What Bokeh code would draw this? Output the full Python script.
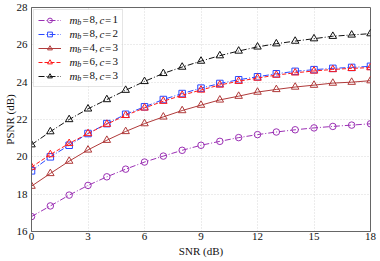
import math
from bokeh.plotting import figure
from bokeh.models import Legend, LegendItem, Label, FixedTicker, Range1d, BoxAnnotation
from bokeh.embed import file_html
from bokeh.resources import INLINE

# ---------------- data ----------------
snr = [0, 1, 2, 3, 4, 5, 6, 7, 8, 9, 10, 11, 12, 13, 14, 15, 16, 17, 18]
psnr_mb8_c1 = [16.80, 17.37, 17.95, 18.47, 18.93, 19.34, 19.72, 20.04, 20.35, 20.62,
               20.83, 21.03, 21.19, 21.33, 21.45, 21.55, 21.63, 21.70, 21.77]
psnr_mb8_c2 = [19.25, 20.00, 20.62, 21.25, 21.78, 22.28, 22.68, 23.07, 23.39, 23.68,
               23.93, 24.13, 24.29, 24.45, 24.58, 24.67, 24.74, 24.79, 24.85]
psnr_mb4_c3 = [18.43, 19.11, 19.77, 20.37, 20.89, 21.36, 21.78, 22.14, 22.48, 22.77,
               23.05, 23.25, 23.47, 23.61, 23.74, 23.84, 23.95, 24.00, 24.08]
psnr_mb6_c3 = [19.45, 20.12, 20.72, 21.25, 21.75, 22.22, 22.62, 22.98, 23.30, 23.58,
               23.85, 24.05, 24.22, 24.38, 24.50, 24.60, 24.68, 24.74, 24.78]
psnr_mb8_c3 = [20.65, 21.35, 22.00, 22.57, 23.07, 23.57, 24.04, 24.47, 24.81, 25.13,
               25.42, 25.67, 25.89, 26.06, 26.20, 26.33, 26.46, 26.53, 26.60]

legend_mb = ["8", "8", "4", "6", "8"]
legend_c = ["1", "2", "3", "3", "3"]
x_ticks = [0, 3, 6, 9, 12, 15, 18]
y_ticks = [16, 18, 20, 22, 24, 26, 28]
x_label = "SNR (dB)"
y_label = "PSNR (dB)"

series = [
    (psnr_mb8_c1, "#9b30b4", "6 2 1 2", "circle", 6.5),
    (psnr_mb8_c2, "#2a48ff", "6 2 1 2", "square", 6.5),
    (psnr_mb4_c3, "#b03a3a", "solid", "triangle", 7.5),
    (psnr_mb6_c3, "#ff1a1a", "4 2", "triangle", 7.5),
    (psnr_mb8_c3, "#111111", "6 2 1 2", "triangle", 7.5),
]

FONT = "Liberation Serif"
FS = "11px"
TOP, BOTTOM = 7, 30
FRAME_H = 261 - TOP - BOTTOM

p = figure(width=380, height=261, output_backend="svg", toolbar_location=None,
           x_range=Range1d(0, 18), y_range=Range1d(16, 28),
           min_border_left=31, min_border_right=10, min_border_top=TOP,
           min_border_bottom=BOTTOM)
p.background_fill_color = "white"
p.border_fill_color = "white"
p.outline_line_color = "#666666"
p.outline_line_width = 1

for ax in (p.xaxis, p.yaxis):
    ax.axis_line_color = "#666666"
    ax.major_tick_line_color = None
    ax.minor_tick_line_color = None
    ax.major_tick_out = 0
    ax.major_tick_in = 0
    ax.minor_tick_out = 0
    ax.minor_tick_in = 0
    ax.major_label_text_font = FONT
    ax.major_label_text_font_size = FS
    ax.major_label_text_color = "#111111"
    ax.axis_label_text_font = FONT
    ax.axis_label_text_font_size = FS
    ax.axis_label_text_font_style = "normal"
    ax.axis_label_text_color = "#111111"
p.xaxis.major_label_standoff = 1
p.xaxis.axis_label_standoff = 2
p.yaxis.major_label_standoff = 4
p.yaxis.axis_label_standoff = -2
p.xaxis.ticker = FixedTicker(ticks=x_ticks)
p.yaxis.ticker = FixedTicker(ticks=y_ticks)
p.xaxis.axis_label = x_label
p.yaxis.axis_label = y_label

for g in (p.xgrid, p.ygrid):
    g.grid_line_color = "#cfcfcf"
    g.grid_line_dash = "1 2"
    g.grid_line_width = 0.8

items = []
for vals, col, dash, marker, ms in series:
    lr = p.line(snr, vals, line_color=col, line_dash=dash, line_width=1)
    mr = p.scatter(snr, vals, marker=marker, size=ms, line_color=col,
                   fill_color=None, line_width=1)
    items.append(LegendItem(label=" ", renderers=[lr, mr]))

MARGIN, PAD, GW, GH, SP, STAND, LW = 2, 4, 23, 12, 2, 9, 48
n = len(series)
leg_h = 2 * PAD + n * GH + (n - 1) * SP
leg_w = 2 * PAD + GW + STAND + LW
p.add_layout(BoxAnnotation(left=MARGIN, right=MARGIN + leg_w,
                           top=FRAME_H - MARGIN, bottom=FRAME_H - MARGIN - leg_h,
                           left_units="screen", right_units="screen",
                           top_units="screen", bottom_units="screen",
                           fill_color="white", fill_alpha=0.85, line_color=None))
legend = Legend(items=items, location="top_left", margin=MARGIN, padding=PAD,
                glyph_width=GW, glyph_height=GH, label_height=GH, spacing=SP,
                label_standoff=STAND, label_width=LW,
                label_text_font_size="8px",
                border_line_color="#cccccc", border_line_width=1,
                background_fill_alpha=0)
p.add_layout(legend)

# legend texts (m_b = ., c = .) drawn as real text fragments
tx0 = MARGIN + PAD + GW + STAND
for k in range(n):
    yc = FRAME_H - MARGIN - PAD - GH / 2 - k * (GH + SP)
    frags = [
        ("m", 0, 0, "italic", FS),
        ("b", 7.8, -2.5, "italic", "8px"),
        ("=", 13, 0, "normal", FS),
        (legend_mb[k] + ",", 20, 0, "normal", FS),
        ("c", 30, 0, "italic", FS),
        ("=", 35.5, 0, "normal", FS),
        (legend_c[k], 43, 0, "normal", FS),
    ]
    for t, dx, dy, st, fs in frags:
        p.add_layout(Label(x=tx0 + dx, y=yc + dy, x_units="screen", y_units="screen",
                           text=t, text_font=FONT, text_font_size=fs,
                           text_font_style=st, text_baseline="middle",
                           text_align="left", text_color="#111111"))

open("out.html", "w").write(file_html(p, INLINE))
